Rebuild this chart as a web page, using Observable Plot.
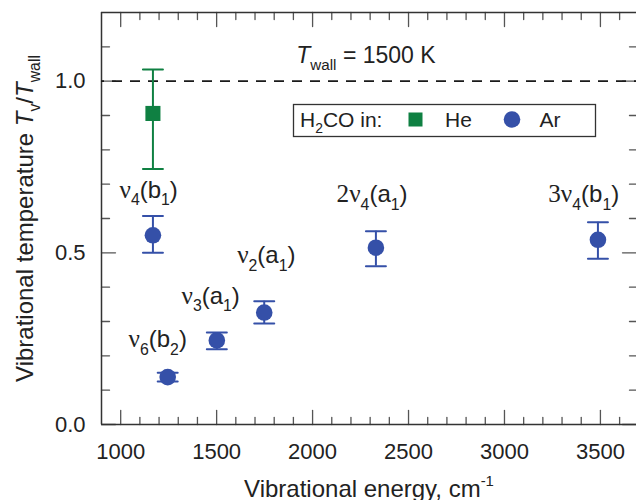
<!DOCTYPE html>
<html><head><meta charset="utf-8">
<script src="https://cdn.jsdelivr.net/npm/d3@7"></script>
<script src="https://cdn.jsdelivr.net/npm/@observablehq/plot@0.6"></script>
<style>
html,body{margin:0;padding:0;background:#fff;}
#chart{width:636px;height:500px;overflow:hidden;}
</style></head><body><div id="chart"></div>
<script>
// ---- data ----
const modes     = ["nu4(b1)", "nu6(b2)", "nu3(a1)", "nu2(a1)", "2nu4(a1)", "3nu4(b1)"];
const energy    = [1168, 1245, 1501, 1748, 2330, 3487];
const tAr       = [0.551, 0.138, 0.245, 0.326, 0.515, 0.538];
const tArLo     = [0.500, 0.125, 0.219, 0.294, 0.461, 0.483];
const tArHi     = [0.607, 0.151, 0.268, 0.359, 0.563, 0.589];
const heEnergy  = [1168];
const tHe       = [0.906];
const tHeLo     = [0.744];
const tHeHi     = [1.034];
const labelText = ["~{ν}_{4}(b_{1})", "~{ν}_{6}(b_{2})", "~{ν}_{3}(a_{1})", "~{ν}_{2}(a_{1})", "~{2ν}_{4}(a_{1})", "~{3ν}_{4}(b_{1})"];
const labelX    = [1146, 1193, 1469, 1759, 2310, 3413];
const labelY    = [0.661, 0.225, 0.352, 0.469, 0.647, 0.647];
const xTicks    = [1000, 1500, 2000, 2500, 3000, 3500];
const xMinor    = [1100,1200,1300,1400,1600,1700,1800,1900,2100,2200,2300,2400,2600,2700,2800,2900,3100,3200,3300,3400,3600];
const yTicks    = [0, 0.5, 1.0];
const yMinor    = [0.1,0.2,0.3,0.4,0.6,0.7,0.8,0.9,1.1];
const wallRatio = [1.0];
const wallText  = ["*{T}_{wall} = 1500 K"];
const xTitle    = ["Vibrational energy, cm^{-1}"];
const yTitle    = ["Vibrational temperature *{T}_{v}/*{T}_{wall}"];
const legendTitle = "H_{2}CO in:";
const legendNames = ["He", "Ar"];

const BLUE = "#3550a8", GREEN = "#0f8042", AX = "#333", TK = "#555";
const X0 = 900, X1 = 3688, Y0 = 0, Y1 = 1.2;

const ar = energy.map((e, i) => ({mode: modes[i], e, t: tAr[i], lo: tArLo[i], hi: tArHi[i]}));
const he = heEnergy.map((e, i) => ({e, t: tHe[i], lo: tHeLo[i], hi: tHeHi[i]}));
const labels = labelText.map((s, i) => ({s, x: labelX[i], y: labelY[i]}));

const line = {draw(ctx, l) { ctx.moveTo(0, 0); ctx.lineTo(0, -l); }};
const tick = (data, opts) => Plot.vector(data, {anchor: "start", shape: line, stroke: TK, strokeWidth: 1.3, ...opts});
const cap = (data, y, color) => Plot.vector(data, {x: "e", y, length: 20, rotate: 90, anchor: "middle", shape: line, stroke: color, strokeWidth: 2});

const plot = Plot.plot({
  width: 636, height: 500,
  marginLeft: 101, marginRight: 0, marginTop: 12, marginBottom: 76,
  x: {domain: [X0, X1]},
  y: {domain: [Y0, Y1]},
  style: {fontFamily: "'Liberation Sans', Arial, sans-serif", fontSize: "22px", color: "#222", background: "white", overflow: "visible"},
  marks: [
    Plot.axisX({ticks: xTicks, tickSize: 0, tickPadding: 19, tickFormat: "d", fontSize: 22, label: null}),
    Plot.axisY({ticks: yTicks, tickSize: 0, tickPadding: 16, tickFormat: ".1f", fontSize: 22, label: null}),
    // ticks (inward, all four sides)
    tick(xTicks, {x: d => d, y: () => Y0, length: 14, rotate: 0}),
    tick(xMinor, {x: d => d, y: () => Y0, length: 7, rotate: 0}),
    tick(xTicks, {x: d => d, y: () => Y1, length: 14, rotate: 180}),
    tick(xMinor, {x: d => d, y: () => Y1, length: 7, rotate: 180}),
    tick(yTicks, {x: () => X0, y: d => d, length: 14, rotate: 90}),
    tick(yMinor, {x: () => X0, y: d => d, length: 8, rotate: 90}),
    tick(yTicks, {x: () => X1, y: d => d, length: 14, rotate: -90}),
    tick(yMinor, {x: () => X1, y: d => d, length: 7, rotate: -90}),
    // frame (left, top, bottom)
    Plot.ruleX([X0], {stroke: AX, strokeWidth: 1.5}),
    Plot.ruleY([Y0], {stroke: AX, strokeWidth: 1.5}),
    Plot.ruleY([Y1], {stroke: AX, strokeWidth: 1.5}),
    // T/Twall = 1
    Plot.ruleY(wallRatio, {stroke: "#1a1a1a", strokeWidth: 1.6, strokeDasharray: "10,8", strokeDashoffset: 7}),
    Plot.text(wallText, {x: () => 1915, y: () => 1.054, text: d => d, textAnchor: "start", lineAnchor: "bottom", fontSize: 23, fill: "#222"}),
    // He
    Plot.ruleX(he, {x: "e", y1: "lo", y2: "hi", stroke: GREEN, strokeWidth: 2}),
    cap(he, "hi", GREEN), cap(he, "lo", GREEN),
    Plot.dot(he, {x: "e", y: "t", symbol: "square", r: 8.5, fill: GREEN}),
    // Ar
    Plot.ruleX(ar, {x: "e", y1: "lo", y2: "hi", stroke: BLUE, strokeWidth: 2}),
    cap(ar, "hi", BLUE), cap(ar, "lo", BLUE),
    Plot.dot(ar, {x: "e", y: "t", r: 8.3, fill: BLUE}),
    // mode labels
    Plot.text(labels, {x: "x", y: "y", text: "s", textAnchor: "middle", lineAnchor: "bottom", fontSize: 24, fill: "#222"}),
    // axis titles
    Plot.text(xTitle, {text: d => d, frameAnchor: "bottom", dy: 72, textAnchor: "middle", lineAnchor: "bottom", fontSize: 24, fill: "#222"}),
    Plot.text(yTitle, {text: d => d, frameAnchor: "left", dx: -69, rotate: -90, textAnchor: "middle", lineAnchor: "bottom", fontSize: 24, fill: "#222"})
  ]
});

document.getElementById("chart").appendChild(plot);

// legend (inside the frame)
const svg = d3.select(plot);
const lg = svg.append("g").attr("font-size", 21).attr("fill", "#222").attr("text-anchor", "start");
lg.append("rect").attr("x", 293.5).attr("y", 104.5).attr("width", 302).attr("height", 32)
  .attr("fill", "white").attr("stroke", AX).attr("stroke-width", 1.3);
lg.append("text").attr("x", 300).attr("y", 126.5).text(legendTitle);
lg.append("rect").attr("x", 408.5).attr("y", 112.5).attr("width", 14).attr("height", 14).attr("fill", GREEN);
lg.append("text").attr("x", 445).attr("y", 126.5).text(legendNames[0]);
lg.append("circle").attr("cx", 512).attr("cy", 119.5).attr("r", 8.3).attr("fill", BLUE);
lg.append("text").attr("x", 539.5).attr("y", 126.5).text(legendNames[1]);

// rich text: _{sub} ^{sup} *{italic} ~{serif}
const NS = "http://www.w3.org/2000/svg";
plot.querySelectorAll("text").forEach(t => {
  const src = t.textContent;
  if (!/[_^*~]\{/.test(src)) return;
  const fs = parseFloat(getComputedStyle(t).fontSize) || 22;
  t.textContent = "";
  const re = /([_^*~])\{([^}]*)\}|([^_^*~]+)/g;
  let m, cur = 0;
  while ((m = re.exec(src))) {
    const ts = document.createElementNS(NS, "tspan");
    let target = 0;
    if (m[1] === "_") { target = 0.32 * fs; ts.setAttribute("font-size", (0.66 * fs).toFixed(1)); }
    else if (m[1] === "^") { target = -0.42 * fs; ts.setAttribute("font-size", (0.62 * fs).toFixed(1)); }
    else if (m[1] === "*") { ts.setAttribute("font-style", "italic"); }
    else if (m[1] === "~") { ts.setAttribute("font-family", "'Liberation Serif', 'Times New Roman', serif"); ts.setAttribute("font-size", (1.05 * fs).toFixed(1)); }
    if (target !== cur) ts.setAttribute("dy", (target - cur).toFixed(2));
    cur = target;
    ts.textContent = m[1] ? m[2] : m[3];
    t.appendChild(ts);
  }
});
</script>
</body></html>
